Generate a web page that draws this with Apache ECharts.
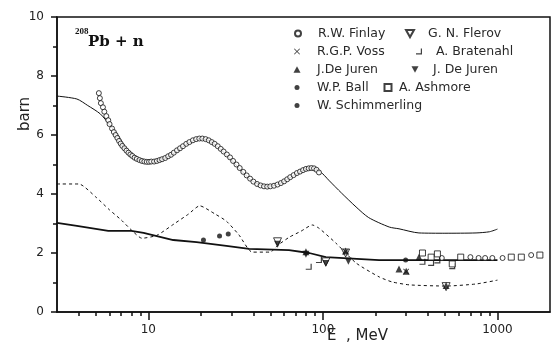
<!DOCTYPE html>
<html>
<head>
<meta charset="utf-8">
<script src="https://cdn.jsdelivr.net/npm/echarts@6/dist/echarts.min.js"></script>
<style>
html,body{margin:0;padding:0;background:#fff;}
#chart{width:553px;height:347px;}
</style>
</head>
<body>
<div id="chart"></div>
<script>
// 208Pb + n total cross sections (barn) versus neutron energy (MeV)

// Axis ticks
const minorTicksE = [4,5,6,7,8,9,20,30,40,50,60,70,80,90,200,300,400,500,600,700,800,900];
const majorTicksE = [10,100,1000];

// Model curve (solid, upper)
const modelE = [3,3.9,4.5,5.3,6.0,6.6,7.5,8.5,9.5,10.5,12,14,16,18,20,22,25,30,35,40,47,55,65,75,85,92,100,108,128,155,183,240,273,355,500,754,900,1000];
const modelS = [7.32,7.22,7.0,6.72,6.35,6.05,5.52,5.22,5.11,5.08,5.15,5.38,5.62,5.80,5.87,5.82,5.60,5.15,4.72,4.42,4.26,4.32,4.55,4.77,4.86,4.84,4.68,4.47,4.03,3.56,3.2,2.88,2.82,2.68,2.67,2.68,2.72,2.81];

// Dashed curve
const dashE = [3,4.0,5,6,7,8.0,9.2,11.2,14,17,19.7,24,28,33,39.4,49.7,56,64.4,75,87,95,119,155,210,249,313,508,754,1000];
const dashS = [4.34,4.34,3.9,3.46,3.12,2.78,2.5,2.6,2.98,3.32,3.6,3.33,3.08,2.62,2.03,2.03,2.29,2.54,2.74,2.95,2.84,2.33,1.66,1.19,1.02,0.92,0.88,0.95,1.08];

// Lower solid curve
const lowE = [3,3.9,5.9,8.0,9.4,13.9,18.9,28,37.8,64,83.5,104,210,400,1000];
const lowS = [3.02,2.92,2.75,2.75,2.68,2.44,2.37,2.24,2.14,2.1,2.0,1.86,1.76,1.76,1.76];

// R.W. Finlay
const finlayE = [5.21,5.28,5.35,5.5,5.6,5.75,5.9,6.0,6.2,6.35,6.5,6.65,6.8,6.95,7.1,7.3,7.5,7.7,7.9,8.1,8.35,8.6,8.9,9.2,9.5,9.8,10.1,10.4,10.8,11.2,11.6,12.0,12.5,13.0,13.5,14.0,14.6,15.2,15.8,16.5,17.2,18.0,18.8,19.6,20.4,21.3,22.2,23.1,24.0,25.0,26.0,27.0,28.2,29.4,30.6,32.0,33.4,35.0,36.6,38.3,40.0,42.0,44.0,46.0,48.0,50.0,52.5,55.0,57.5,60.0,62.5,65.0,68.0,71.0,74.0,77.0,80.0,83.0,86.0,89.0,92.0,95.0,480,700,780,850,935,1070,1560];
const finlayS = [7.42,7.25,7.08,6.94,6.79,6.64,6.50,6.37,6.22,6.10,6.0,5.9,5.80,5.71,5.63,5.55,5.47,5.40,5.34,5.29,5.23,5.19,5.15,5.12,5.10,5.09,5.09,5.10,5.10,5.12,5.15,5.18,5.22,5.28,5.33,5.40,5.48,5.55,5.62,5.70,5.76,5.82,5.86,5.88,5.88,5.86,5.82,5.76,5.70,5.62,5.53,5.44,5.34,5.24,5.12,5.00,4.88,4.75,4.63,4.52,4.42,4.34,4.29,4.26,4.25,4.26,4.28,4.32,4.37,4.43,4.50,4.57,4.64,4.71,4.76,4.81,4.85,4.87,4.88,4.87,4.82,4.73,1.83,1.86,1.83,1.83,1.83,1.83,1.93];

// G.N. Flerov
const flerovE = [55,104,135,508];
const flerovS = [2.38,1.70,2.0,0.86];
// R.G.P. Voss
const vossE = [135,300];
const vossS = [2.04,1.37];
// A. Bratenahl
const bratE = [83,95,372,417,453,551];
const bratS = [1.53,1.76,1.70,1.66,1.75,1.55];
// J.De Juren (up)
const djUpE = [80,135,273,300,355,508];
const djUpS = [2.04,2.07,1.46,1.38,1.86,0.9];
// J. De Juren (down)
const djDnE = [55,80,104,140];
const djDnS = [2.30,1.96,1.64,1.72];
// W.P. Ball
const ballE = [20.7];
const ballS = [2.44];
// A. Ashmore
const ashE = [372,417,453,551,616,1200,1370,1750];
const ashS = [2.0,1.86,1.97,1.63,1.86,1.86,1.86,1.93];
// W. Schimmerling
const schE = [25.6,28.7,298];
const schS = [2.58,2.64,1.76];

const zip = (xs, ys) => xs.map((x, i) => [x, ys[i]]);

const INK = '#111';
const FONT = 'DejaVu Sans';

const crossPath = 'path://M1,0L5,4L9,0L10,1L6,5L10,9L9,10L5,6L1,10L0,9L4,5L0,1Z';
const bratPath = 'path://M0,8L8,8L8,0L10,0L10,10L0,10Z';
const downPath = 'path://M0,0L10,0L5,9Z';
const upPath = 'path://M5,0L10,9L0,9Z';

function scatter(name, xs, ys, symbol, size, filled) {
  return {
    name: name,
    type: 'scatter',
    xAxisIndex: 0,
    data: zip(xs, ys),
    symbol: symbol,
    symbolSize: size,
    itemStyle: filled
      ? { color: INK, borderWidth: 0 }
      : { color: '#fff', borderColor: INK, borderWidth: 1 },
    z: 5
  };
}

// Legend layout: [series name, icon center x, text start x, row center y, icon size]
const legendRows = [
  ['R.W. Finlay', 297, 317, 33, 6],
  ['G. N. Flerov', 409, 427, 33, 8],
  ['R.G.P. Voss', 297, 317, 51, 6],
  ['A. Bratenahl', 419, 436, 51, 6],
  ['J.De Juren', 297, 317, 69, 7],
  ['J. De Juren', 415, 433, 69, 7],
  ['W.P. Ball', 297, 317, 87, 5],
  ['A. Ashmore', 387, 398, 87, 7],
  ['W. Schimmerling', 297, 317, 105, 5]
];

const legends = legendRows.map(r => {
  const s = r[4];
  return {
    data: [r[0]],
    left: r[1] - s / 2,
    top: r[3] - 6,
    itemWidth: s,
    itemHeight: s,
    selectedMode: false,
    padding: 0,
    textStyle: { fontFamily: FONT, fontSize: 12.5, color: '#2a2a2a',
                 padding: [0, 0, 0, r[2] - (r[1] + s / 2 + 5)] }
  };
});

const option = {
  animation: false,
  backgroundColor: '#fff',
  grid: {
    left: 57, right: 3, top: 17, bottom: 35,
    show: true, borderColor: INK, borderWidth: 1.5, backgroundColor: 'transparent'
  },
  legend: legends,
  xAxis: [
    {
      type: 'log', logBase: 10, min: 3, max: 2000,
      axisLine: { show: true, lineStyle: { color: INK, width: 1.5 } },
      axisTick: { show: true, inside: false, length: 4, customValues: minorTicksE, lineStyle: { color: INK, width: 1.5 } },
      axisLabel: { show: false },
      splitLine: { show: false }, minorTick: { show: false }
    },
    {
      type: 'log', logBase: 10, min: 3, max: 2000, position: 'bottom',
      axisLine: { show: false },
      axisTick: { show: true, inside: false, length: 8, customValues: majorTicksE, lineStyle: { color: INK, width: 1.5 } },
      axisLabel: { show: true, customValues: majorTicksE, margin: 12, formatter: v => String(v), fontFamily: FONT, fontSize: 12, color: '#222' },
      splitLine: { show: false }
    }
  ],
  yAxis: {
    type: 'value', min: 0, max: 10, interval: 2,
    axisLine: { show: true, lineStyle: { color: INK, width: 1.5 } },
    axisTick: { show: true, inside: false, length: 6, lineStyle: { color: INK, width: 1.5 } },
    minorTick: { show: true, splitNumber: 2, length: 4, lineStyle: { color: INK, width: 1.5 } },
    axisLabel: { margin: 13, fontFamily: FONT, fontSize: 12, color: '#222' },
    splitLine: { show: false }, minorSplitLine: { show: false }
  },
  graphic: [
    { type: 'text', x: 25, y: 114, rotation: Math.PI / 2,
      style: { text: 'barn', fontFamily: FONT, fontSize: 15, fill: '#222', align: 'center', verticalAlign: 'middle' } },
    { type: 'text', left: 327, top: 329, style: { text: 'E  , MeV', fontFamily: FONT, fontSize: 15, fill: '#222' } },
    { type: 'text', left: 75, top: 27, style: { text: '208', fontFamily: 'Liberation Serif', fontWeight: 'bold', fontSize: 9, fill: INK } },
    { type: 'text', left: 88, top: 35, style: { text: 'Pb + n', fontFamily: 'DejaVu Serif', fontWeight: 'bold', fontSize: 15, fill: INK } }
  ],
  series: [
    { name: 'model', type: 'line', data: zip(modelE, modelS), showSymbol: false, smooth: 0.25,
      lineStyle: { color: INK, width: 1 }, z: 3 },
    { name: 'dashed', type: 'line', data: zip(dashE, dashS), showSymbol: false, smooth: 0.2,
      lineStyle: { color: INK, width: 1, type: [3, 3] }, z: 3 },
    { name: 'lower', type: 'line', data: zip(lowE, lowS), showSymbol: false,
      lineStyle: { color: INK, width: 1.8 }, z: 3 },
    scatter('R.W. Finlay', finlayE, finlayS, 'circle', 5, false),
    scatter('G. N. Flerov', flerovE, flerovS, downPath, 8, false),
    scatter('R.G.P. Voss', vossE, vossS, crossPath, 6, true),
    scatter('A. Bratenahl', bratE, bratS, bratPath, 6, true),
    scatter('J.De Juren', djUpE, djUpS, upPath, 7, true),
    scatter('J. De Juren', djDnE, djDnS, downPath, 7, true),
    scatter('W.P. Ball', ballE, ballS, 'circle', 5, true),
    scatter('A. Ashmore', ashE, ashS, 'rect', 6, false),
    scatter('W. Schimmerling', schE, schS, 'circle', 5, true)
  ]
};

const chart = echarts.init(document.getElementById('chart'), null, { renderer: 'canvas' });
chart.setOption(option);
</script>
</body>
</html>
